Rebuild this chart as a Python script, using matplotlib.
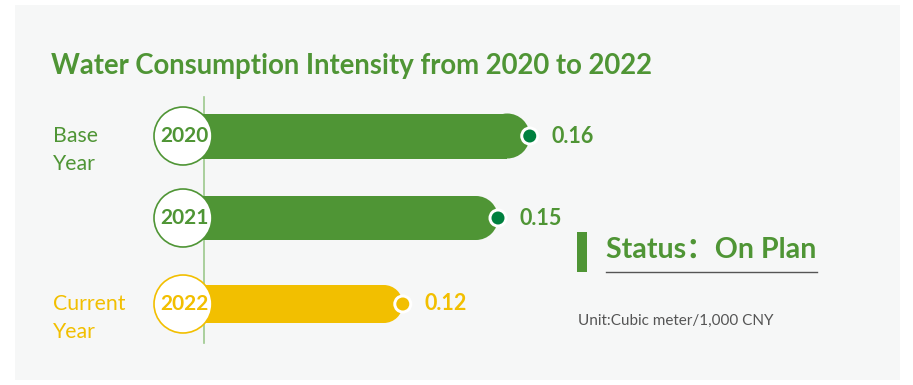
import numpy as np
import matplotlib.pyplot as plt
from matplotlib.patches import Rectangle, Ellipse

# data
years = ["2020", "2021", "2022"]
values = [0.16, 0.15, 0.12]
value_labels = ["0.16", "0.15", "0.12"]
side_labels = ["Base\nYear", "", "Current\nYear"]
title = "Water Consumption Intensity from 2020 to 2022"
status = "Status\uff1aOn Plan"
unit = "Unit:Cubic meter/1,000 CNY"

green = "#4f9535"
dark_green = "#00803f"
yellow = "#f2bf00"
colors = [green, green, yellow]
dot_colors = [dark_green, dark_green, yellow]
bar_h_px = [45, 44, 38]
FONT = ["Lato", "Noto Sans CJK SC", "DejaVu Sans"]

W, H = 913, 385
fig = plt.figure(figsize=(W / 100, H / 100), dpi=100)
fig.patch.set_facecolor("white")

# pixel overlay for decoration
bg = fig.add_axes([0, 0, 1, 1])
bg.set_xlim(0, W)
bg.set_ylim(H, 0)
bg.axis("off")
bg.add_patch(Rectangle((15, 5), 885, 375, color="#f6f7f7", lw=0))

# data axes: x in value units, y in row index
px0, kx = 21.9, 3174.0          # pixel = px0 + kx * value
row_px = [136, 218, 304]
ky = 84.0
ax = fig.add_axes([0, 0, 1, 1])
ax.set_xlim(-px0 / kx, (W - px0) / kx)
ax.set_ylim((H - 136) / ky, -136 / ky)
ax.axis("off")

start = (183 - px0) / kx
ypos = [(p - 136) / ky for p in row_px]

# axis line
ax.plot([(204 - px0) / kx] * 2, [(97 - 136) / ky, (343 - 136) / ky],
        color="#9cc98d", lw=1.2, zorder=1)

for i in range(len(years)):
    y = ypos[i]
    hh = bar_h_px[i] / ky
    r = bar_h_px[i] / 2
    rx = r / kx
    ax.add_patch(Rectangle((start, y - hh / 2), values[i] - rx - start, hh,
                           color=colors[i], lw=0, zorder=2))
    ax.add_patch(Ellipse((values[i] - rx, y), 2 * rx, hh, color=colors[i], lw=0, zorder=2))
    # end dot
    ax.add_patch(Ellipse((values[i], y), 19 / kx, 19 / ky, facecolor="white", lw=0, zorder=3))
    ax.add_patch(Ellipse((values[i], y), 13 / kx, 13 / ky, facecolor=dot_colors[i], lw=0, zorder=4))
    ax.text(values[i] + 22 / kx, y, value_labels[i], color=colors[i], fontsize=15.5,
            fontweight="bold", family=FONT, va="center", ha="left")
    # year circle
    ax.add_patch(Ellipse(((183 - px0) / kx, y), 58 / kx, 58 / ky, facecolor="white",
                         edgecolor=colors[i], lw=1.2, zorder=5))
    ax.text((184 - px0) / kx, y, years[i], color=colors[i], fontsize=15, fontweight="bold",
            family=FONT, va="center", ha="center", zorder=6)
    if side_labels[i]:
        ax.text((53 - px0) / kx, y + 14 / ky, side_labels[i], color=colors[i], fontsize=15.3,
                family=FONT, va="center", ha="left", linespacing=1.5)

bg.text(51, 66, title, color=green, fontsize=19.8, fontweight="bold", family=FONT,
        va="center", ha="left")

bg.add_patch(Rectangle((577, 232), 10, 40, color=green, lw=0))
bg.text(606, 250, status, color=green, fontsize=20.6, fontweight="bold",
        family=FONT, va="center", ha="left")
bg.plot([606, 817], [272, 272], color="#555555", lw=1)
bg.text(578, 321, unit, color="#555555", fontsize=11, family=FONT, va="center", ha="left")

fig.savefig("out.png", dpi=100)
